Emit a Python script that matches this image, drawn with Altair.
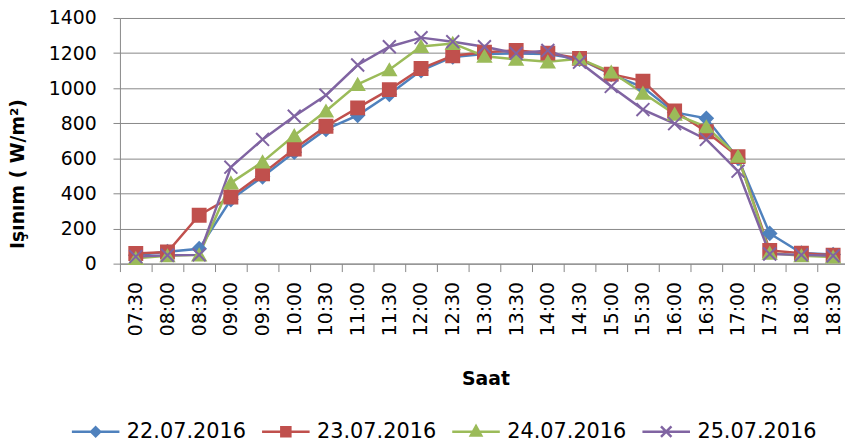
import altair as alt
import pandas as pd

times = ["07:30", "08:00", "08:30", "09:00", "09:30", "10:00", "10:30", "11:00",
         "11:30", "12:00", "12:30", "13:00", "13:30", "14:00", "14:30", "15:00",
         "15:30", "16:00", "16:30", "17:00", "17:30", "18:00", "18:30"]

series_names = ["22.07.2016", "23.07.2016", "24.07.2016", "25.07.2016"]
colors = ["#4F81BD", "#C0504D", "#9BBB59", "#8064A2"]

s22 = [48, 68, 85, 365, 495, 635, 765, 845, 965, 1100, 1178, 1195, 1198, 1195,
       1165, 1078, 1005, 862, 828, 600, 172, 60, 52]
s23 = [58, 66, 276, 380, 512, 653, 783, 888, 992, 1112, 1185, 1205, 1215, 1200,
       1170, 1080, 1040, 870, 752, 610, 75, 60, 48]
s24 = [30, 45, 50, 460, 580, 730, 870, 1022, 1105, 1238, 1255, 1182, 1165, 1150,
       1168, 1092, 972, 852, 780, 612, 60, 45, 38]
s25 = [40, 48, 50, 550, 708, 840, 960, 1132, 1236, 1288, 1265, 1236, 1198, 1215,
       1148, 1010, 878, 798, 708, 527, 55, 50, 45]

rows = []
for name, vals in zip(series_names, [s22, s23, s24, s25]):
    for t, v in zip(times, vals):
        rows.append({"Saat": t, "seri": name, "deger": v})
df = pd.DataFrame(rows)

FONT = "DejaVu Sans"
GRID = "#878787"

marker_shapes = ["diamond", "square", "triangle-up", "M-1,-1L1,1M-1,1L1,-1"]
legend_shapes = [
    "M-1,0H1M0,-0.19L0.19,0L0,0.19L-0.19,0Z",
    "M-1,0H1M-0.19,-0.19H0.19V0.19H-0.19Z",
    "M-1,0H1M0,-0.24L0.22,0.16H-0.22Z",
    "M-1,0H1M-0.22,-0.22L0.22,0.22M-0.22,0.22L0.22,-0.22",
]

x_enc = alt.X("Saat:N", sort=times,
              scale=alt.Scale(paddingInner=0, paddingOuter=0),
              axis=alt.Axis(title="Saat", labelAngle=270, labelFontSize=19,
                            labelFont=FONT, labelColor="#000000",
                            tickSize=8, labelPadding=10, tickBand="extent",
                            tickColor=GRID, domainColor=GRID, grid=False,
                            titleFont=FONT, titleFontSize=19, titleFontWeight="bold",
                            titleColor="#000000", titleX=369, titleY=116,
                            titleAlign="center", titleBaseline="middle"))
y_enc = alt.Y("deger:Q", scale=alt.Scale(domain=[0, 1400], nice=False),
              axis=alt.Axis(title="Işınım ( W/m²)", values=list(range(0, 1401, 200)),
                            format="d",
                            labelFontSize=19, labelFont=FONT, labelColor="#000000",
                            tickSize=7, labelPadding=17, tickColor=GRID,
                            domainColor=GRID, grid=True, gridColor=GRID,
                            titleFont=FONT, titleFontSize=19, titleFontWeight="bold",
                            titleColor="#000000", titleAngle=270, titleX=-103,
                            titleY=157, titleAlign="center", titleBaseline="middle"))

color_scale = alt.Scale(domain=series_names, range=colors)

base = alt.Chart(df)

lines = base.mark_line(strokeWidth=2.5).encode(
    x=x_enc, y=y_enc,
    color=alt.Color("seri:N", scale=color_scale, legend=None),
    order=alt.Order("seri:N"),
)

points = base.mark_point(filled=True, strokeWidth=2, opacity=1).encode(
    x=x_enc, y=y_enc,
    color=alt.Color("seri:N", scale=color_scale, legend=None),
    stroke=alt.Stroke("seri:N", scale=color_scale, legend=None),
    shape=alt.Shape("seri:N", scale=alt.Scale(domain=series_names, range=marker_shapes),
                    legend=None),
    size=alt.value(170),
)

legend_props = dict(orient="none", legendX=-50, legendY=392, direction="horizontal",
                    title=None, labelFont=FONT, labelFontSize=21, labelColor="#000000",
                    symbolSize=2304, symbolStrokeWidth=2.5, labelOffset=6,
                    columnPadding=10, padding=0, symbolOpacity=1)

legend_layer = base.mark_point(filled=True, strokeWidth=2.5, opacity=1).encode(
    x=x_enc, y=y_enc,
    fill=alt.Fill("seri:N", scale=alt.Scale(domain=series_names, range=colors),
                  legend=alt.Legend(**legend_props)),
    stroke=alt.Stroke("seri:N", scale=alt.Scale(domain=series_names, range=colors),
                      legend=alt.Legend(**legend_props)),
    shape=alt.Shape("seri:N", scale=alt.Scale(domain=series_names, range=legend_shapes),
                    legend=alt.Legend(**legend_props)),
).transform_filter("false")

chart = alt.layer(lines, points, legend_layer).resolve_scale(
    fill="independent", stroke="independent", shape="independent"
).properties(
    width=736, height=248,
    autosize=alt.AutoSizeParams(type="none"),
    padding={"left": 113, "top": 8, "right": -4, "bottom": 180},
    background="#ffffff",
).configure_view(stroke=None)

chart.save("out.html", embed_options={"renderer": "svg", "actions": False})
